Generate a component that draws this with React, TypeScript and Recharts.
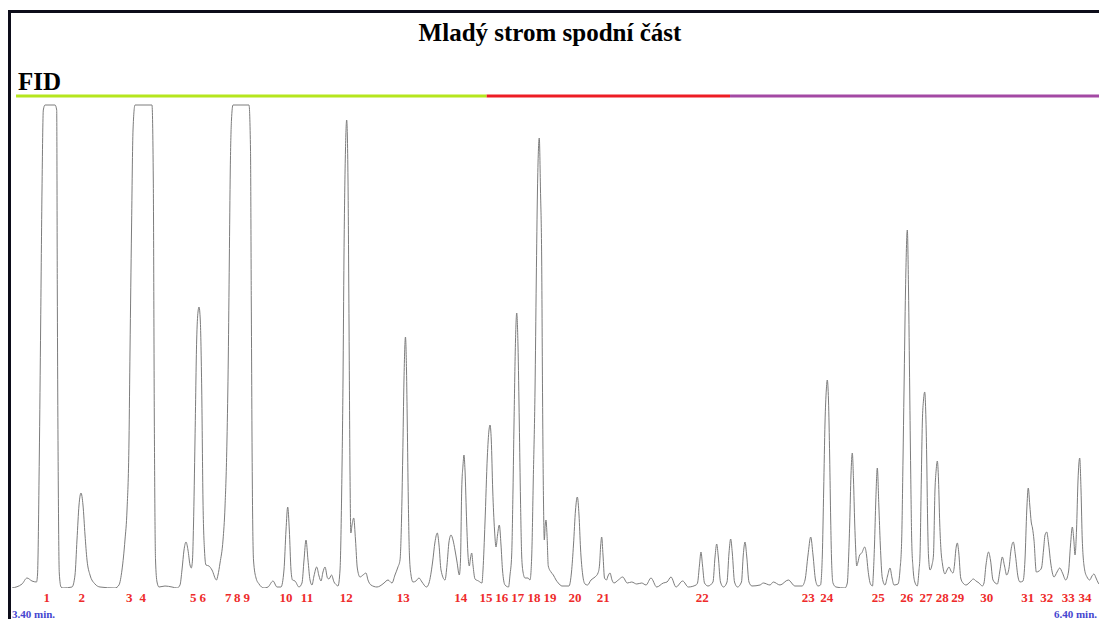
import { LineChart, Line, XAxis, YAxis, ReferenceLine } from "recharts";

// FID trace: [retention time (s), signal]
const trace: [number, number][] = [
  [204.0, 0], [205.67, 4], [206.5, 10], [207.33, 7], [208.08, 6], [208.25, 13], [208.55, 131], [208.78, 265],
  [209.0, 398], [209.22, 478], [209.5, 483], [211.17, 483], [211.45, 478], [211.55, 298], [211.72, 98],
  [211.88, 15], [212.17, 1], [212.5, 0],
  [214.0, 1], [214.5, 13], [214.83, 48], [215.17, 83], [215.5, 95], [215.83, 83], [216.17, 53], [216.5, 28],
  [217.0, 13], [217.83, 4], [218.67, 1], [221.17, 0],
  [221.83, 3], [222.33, 18], [222.83, 48], [223.17, 78], [223.5, 148], [223.67, 238], [223.92, 358],
  [224.17, 458], [224.5, 483], [227.33, 483], [227.55, 408], [227.72, 168], [227.92, 28], [228.17, 6],
  [228.5, 1], [229.5, 2], [230.67, 1], [231.5, 0],
  [232.0, 3], [232.33, 18], [232.67, 38], [233.0, 46], [233.33, 38], [233.67, 23], [233.88, 20], [234.08, 28],
  [234.25, 63], [234.5, 148], [234.78, 248], [235.0, 276], [235.17, 281], [235.38, 268], [235.62, 198],
  [235.83, 88], [236.08, 38], [236.33, 23], [236.83, 22], [237.33, 18], [238.08, 8],
  [238.33, 13], [238.67, 25], [239.17, 48], [239.5, 81], [239.83, 148], [240.05, 231], [240.22, 328],
  [240.38, 418], [240.58, 468], [240.83, 483], [243.5, 483], [243.75, 438], [243.88, 288], [244.05, 108],
  [244.25, 28], [244.67, 10], [245.17, 4], [246.0, 0], [246.67, 1], [247.5, 7], [248.17, 1],
  [248.83, 1], [249.33, 18], [249.67, 58], [249.95, 81], [250.22, 58], [250.5, 18], [250.75, 8], [251.17, 7],
  [251.83, 1],
  [252.33, 5], [252.67, 28], [253.0, 48], [253.33, 28], [253.67, 8], [254.0, 3], [254.33, 12], [254.78, 21],
  [255.17, 12], [255.5, 7], [255.83, 16], [256.17, 21], [256.58, 10], [256.83, 9], [257.25, 13], [257.67, 6],
  [258.08, 3],
  [258.33, 2], [258.67, 18], [258.95, 98], [259.17, 208], [259.33, 331], [259.58, 438], [259.78, 468],
  [260.0, 408], [260.17, 265], [260.33, 118], [260.47, 55], [260.67, 63], [260.95, 70], [261.25, 48],
  [261.55, 20], [262.0, 11], [262.5, 13], [263.0, 15], [263.33, 8], [263.83, 3], [264.83, 1], [265.33, 2],
  [266.0, 5], [266.67, 8], [267.33, 5],
  [267.83, 13], [268.33, 21], [268.67, 28], [268.92, 68], [269.12, 131], [269.33, 208], [269.58, 251],
  [269.75, 218], [269.88, 165], [270.05, 88], [270.25, 31], [270.5, 13], [270.83, 6], [271.33, 7],
  [271.83, 10], [272.33, 6], [273.08, 1],
  [273.5, 5], [274.08, 25], [274.5, 46], [274.88, 55], [275.17, 43], [275.5, 18], [276.17, 8],
  [276.5, 23], [276.83, 46], [277.17, 53], [277.5, 48], [277.83, 38], [278.17, 26], [278.55, 13],
  [278.75, 28], [278.95, 98], [279.17, 123], [279.33, 133], [279.5, 118], [279.78, 65], [280.0, 33],
  [280.22, 22], [280.42, 30], [280.62, 35], [280.83, 23], [281.17, 9], [281.75, 7], [282.33, 5],
  [282.5, 18], [282.83, 65], [283.22, 131], [283.5, 158], [283.67, 163], [283.88, 148], [284.12, 98],
  [284.42, 58], [284.67, 41], [284.92, 53], [285.22, 63], [285.5, 43], [285.75, 18], [286.17, 3], [286.75, 1],
  [287.0, 13], [287.28, 33], [287.5, 98], [287.67, 165], [287.92, 248], [288.12, 275], [288.33, 243],
  [288.55, 165], [288.75, 88], [288.95, 32], [289.17, 16], [289.5, 10], [290.0, 10],
  [290.33, 8], [290.62, 32], [290.88, 108], [291.17, 198], [291.38, 308], [291.58, 398], [291.88, 450],
  [292.08, 398], [292.28, 328], [292.43, 188], [292.58, 88], [292.72, 48], [292.87, 63], [293.0, 68],
  [293.17, 53], [293.38, 22], [293.83, 16], [294.22, 13], [294.67, 8], [295.05, 5], [295.67, 2], [296.83, 2],
  [297.25, 16], [297.58, 43], [297.92, 78], [298.22, 91], [298.5, 73], [298.75, 40], [299.12, 13], [299.5, 4],
  [299.92, 3], [300.5, 8], [301.17, 11], [301.67, 15],
  [301.92, 23], [302.12, 43], [302.28, 51], [302.5, 33], [302.75, 10], [303.08, 8], [303.33, 12],
  [303.67, 15], [304.0, 8], [304.33, 5], [305.05, 8], [305.78, 11], [306.55, 5], [307.28, 6], [308.12, 4],
  [308.95, 5], [309.67, 3], [310.5, 10], [311.45, 1], [312.55, 5], [313.17, 6], [313.83, 11], [314.67, 1],
  [315.78, 7], [316.72, 1], [318.0, 3],
  [318.25, 5], [318.58, 23], [318.83, 36], [319.08, 23], [319.42, 5], [320.0, 2], [320.83, 6], [321.17, 31],
  [321.45, 44], [321.72, 31], [322.08, 6], [322.58, 1], [323.17, 6], [323.5, 35], [323.78, 49], [324.05, 35],
  [324.42, 6], [324.92, 1], [325.58, 6], [325.88, 33], [326.17, 46], [326.45, 32], [326.83, 6], [327.33, 2],
  [328.67, 3], [329.22, 5], [330.33, 3], [330.88, 6], [332.0, 3], [333.38, 8], [334.5, 2], [335.67, 2],
  [336.17, 8], [336.67, 33], [337.12, 51], [337.5, 33], [337.92, 8], [338.33, 2], [338.75, 3], [339.05, 32],
  [339.28, 98], [339.5, 165], [339.72, 198], [339.88, 208], [340.08, 188], [340.28, 131], [340.45, 68],
  [340.58, 31], [340.83, 5], [341.33, 1], [342.83, 0],
  [343.22, 5], [343.42, 28], [343.62, 65], [343.83, 113], [344.05, 135], [344.25, 108], [344.45, 65],
  [344.62, 38], [344.78, 22], [345.0, 26], [345.28, 33], [345.62, 35], [346.12, 41], [346.42, 33],
  [346.67, 18], [347.08, 4], [347.42, 2],
  [347.55, 13], [347.75, 43], [347.97, 88], [348.22, 120], [348.47, 83], [348.72, 43], [349.05, 10],
  [349.5, 3], [349.92, 12], [350.33, 20], [350.67, 10], [351.0, 3], [351.67, 4],
  [352.0, 18], [352.28, 48], [352.5, 128], [352.67, 198], [352.92, 298], [353.22, 358], [353.42, 298],
  [353.62, 198], [353.78, 118], [353.95, 48], [354.17, 20], [354.42, 7], [354.88, 2],
  [355.17, 18], [355.33, 32], [355.55, 108], [355.72, 165], [355.92, 188], [356.12, 196], [356.28, 178],
  [356.45, 131], [356.6, 68], [356.75, 32], [357.0, 18], [357.33, 23], [357.58, 33], [357.83, 98],
  [358.03, 118], [358.22, 127], [358.42, 108], [358.62, 65], [358.83, 38], [359.08, 24], [359.5, 14],
  [359.83, 18], [360.17, 21], [360.5, 17], [360.83, 15],
  [361.08, 23], [361.3, 38], [361.55, 45], [361.8, 35], [362.12, 10], [362.5, 5], [363.0, 3], [363.67, 6],
  [364.22, 9], [364.67, 7], [365.17, 5], [365.72, 2],
  [366.0, 5], [366.33, 23], [366.75, 36], [367.08, 28], [367.5, 8], [368.22, 4], [368.67, 18], [369.05, 31],
  [369.42, 22], [369.78, 13], [370.17, 20], [370.5, 38], [370.88, 46], [371.25, 32], [371.67, 11], [372.0, 6],
  [372.5, 7],
  [372.83, 28], [373.13, 78], [373.38, 100], [373.63, 83], [373.87, 66], [374.08, 60], [374.33, 48],
  [374.72, 16], [375.17, 17], [375.58, 20], [375.92, 38], [376.17, 53], [376.45, 56], [376.75, 45],
  [377.12, 25], [377.67, 11], [378.17, 16], [378.62, 20], [379.08, 15], [379.62, 8],
  [380.08, 16], [380.42, 43], [380.72, 61], [380.97, 48], [381.17, 33], [381.42, 58], [381.67, 108],
  [381.95, 130], [382.17, 98], [382.38, 48], [382.78, 18], [383.17, 11], [383.62, 8], [384.0, 12],
  [384.33, 14], [384.67, 10], [385.05, 5], [385.67, 2],
];

// peak numbers as printed under the trace
const peakTimes = [
  209.78, 215.62, 223.55, 225.78, 234.22, 235.78, 240.05, 241.55, 243.12, 249.67, 253.17, 259.72, 269.22,
  278.78, 283.0, 285.62, 288.28, 291.0, 293.67, 297.83, 302.55, 319.05, 336.72, 339.78, 348.38, 353.12,
  356.33, 359.05, 361.62, 366.45, 373.28, 376.45, 380.05, 382.83,
];
const peakNames = peakTimes.map((_, i) => String(i + 1));

const timeTicks = [204, 384];

// coloured zone bar above the trace
const zoneBounds = [204.67, 283.11, 323.67, 386];
const zoneColors = ["#b5e61d", "#ed1c24", "#a349a4"];
const ZONE_LEVEL = 492;

const data = trace.map(([t, signal]) => ({ t, signal }));

const SERIF = "'Liberation Serif', 'Times New Roman', serif";

function PeakTick({ x, y, payload }: any) {
  const i = peakTimes.indexOf(payload.value);
  return (
    <text x={x} y={y} dy="0.71em" textAnchor="middle" fill="#ee2b2b" fontSize={13} fontWeight="bold" fontFamily={SERIF}>
      {peakNames[i]}
    </text>
  );
}

function TimeTick({ x, y, payload }: any) {
  const last = payload.value === timeTicks[timeTicks.length - 1];
  return (
    <text
      x={last ? x + 5 : x}
      y={y}
      dy="0.71em"
      textAnchor={last ? "end" : "start"}
      fill="#4646d0"
      fontSize={11}
      fontWeight="bold"
      fontFamily={SERIF}
    >
      {(payload.value / 60).toFixed(2)} min.
    </text>
  );
}

export default function App() {
  return (
    <div style={{ position: "absolute", left: 0, top: 0, width: 1099, height: 619, overflow: "hidden", background: "#fff" }}>
      <LineChart width={1110} height={619} data={data} margin={{ top: 104, right: 6, left: 12, bottom: 0 }}>
        <XAxis
          xAxisId="peaks"
          dataKey="t"
          type="number"
          domain={[204, 386]}
          allowDataOverflow
          ticks={peakTimes}
          interval={0}
          tick={<PeakTick />}
          axisLine={false}
          tickLine={false}
          tickSize={0}
          tickMargin={5}
          height={20}
        />
        <XAxis
          xAxisId="time"
          dataKey="t"
          type="number"
          domain={[204, 386]}
          allowDataOverflow
          ticks={timeTicks}
          interval={0}
          tick={<TimeTick />}
          axisLine={false}
          tickLine={false}
          tickSize={0}
          tickMargin={2}
          height={11}
        />
        <YAxis hide type="number" domain={[0, 484]} allowDataOverflow />
        {zoneColors.map((c, i) => (
          <ReferenceLine
            key={c}
            xAxisId="peaks"
            segment={[
              { x: zoneBounds[i], y: ZONE_LEVEL },
              { x: zoneBounds[i + 1], y: ZONE_LEVEL },
            ]}
            stroke={c}
            strokeWidth={3}
            ifOverflow="visible"
          />
        ))}
        <Line
          xAxisId="peaks"
          type="monotone"
          dataKey="signal"
          stroke="#7c7c7c"
          strokeWidth={1}
          dot={false}
          activeDot={false}
          isAnimationActive={false}
        />
      </LineChart>
      <svg width={1099} height={619} style={{ position: "absolute", left: 0, top: 0, pointerEvents: "none" }}>
        <rect x={9.5} y={11.5} width={1200} height={700} fill="none" stroke="#0d0d1a" strokeWidth={3} />
        <text x={550} y={41} textAnchor="middle" fontFamily={SERIF} fontWeight="bold" fontSize={25} fill="#000">
          Mladý strom spodní část
        </text>
        <text x={18} y={90} fontFamily={SERIF} fontWeight="bold" fontSize={25} fill="#000">
          FID
        </text>
      </svg>
    </div>
  );
}
